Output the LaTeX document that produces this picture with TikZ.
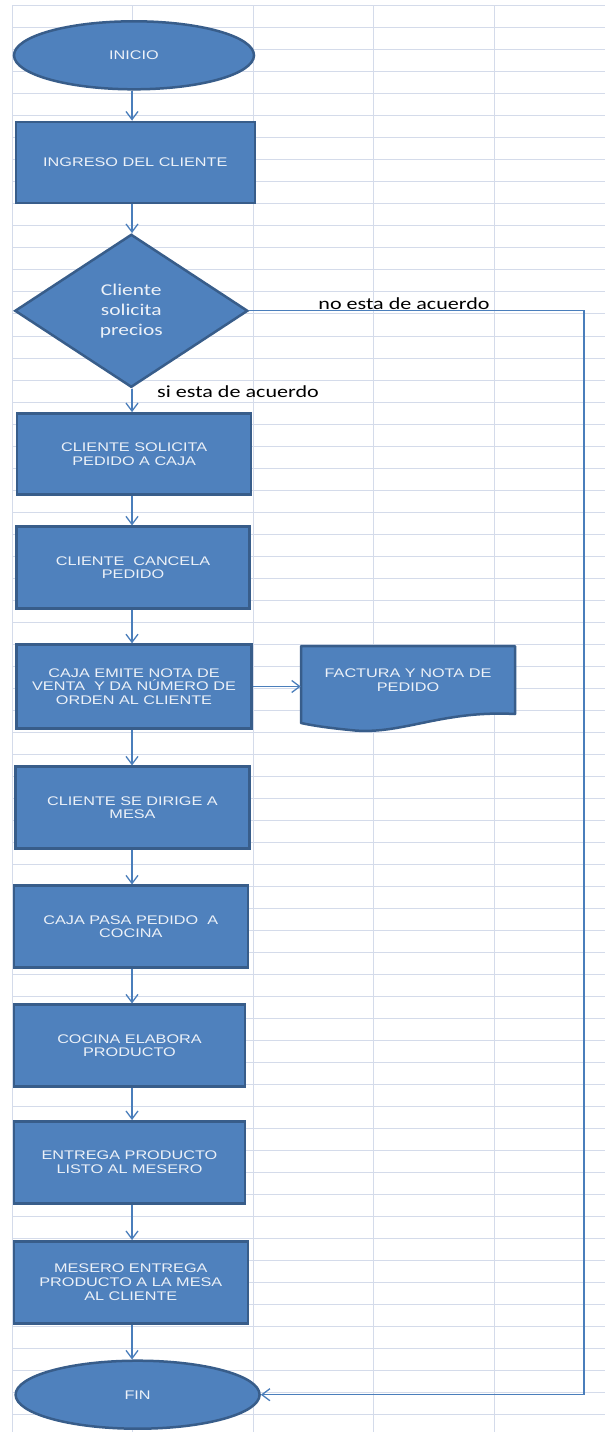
\documentclass[tikz,border=0pt]{standalone}
\usepackage{fontspec}
\usetikzlibrary{shapes.geometric,arrows.meta}
\newfontfamily\boxfont[FakeStretch=1.3]{Liberation Sans}
\newfontfamily\califont[FakeStretch=1.3]{Carlito}
\definecolor{shapefill}{RGB}{79,129,189}
\definecolor{shapeborder}{RGB}{56,93,138}
\definecolor{connblue}{RGB}{74,126,187}
\definecolor{gridcol}{RGB}{212,219,234}
\definecolor{txtcol}{RGB}{236,241,248}
\tikzset{
  proc/.style={rectangle, draw=shapeborder, fill=shapefill, line width=2.5pt,
    inner sep=0pt, align=center, text=txtcol,
    font=\boxfont\fontsize{12.5}{13.8}\selectfont},
  term/.style={ellipse, draw=shapeborder, fill=shapefill, line width=2.5pt,
    inner sep=0pt, align=center, text=txtcol,
    font=\boxfont\fontsize{12.5}{13.8}\selectfont},
  decide/.style={diamond, draw=shapeborder, fill=shapefill, line width=2.5pt,
    inner sep=0pt, align=center, text=txtcol, aspect=1.52,
    font=\califont\fontsize{16.5}{19.8}\selectfont},
  conn/.style={draw=connblue, line width=1.3pt,
    -{Straight Barb[length=8pt,width=12pt]}},
  plainconn/.style={draw=connblue, line width=1.3pt},
  lbl/.style={font=\califont\fontsize{17}{20}\selectfont, text=black, inner sep=0pt},
  gridline/.style={draw=gridcol, line width=1pt}
}
\begin{document}
\begin{tikzpicture}[x=1pt,y=-1pt]
\useasboundingbox (0,0) rectangle (605,1432);
\fill[white] (0,0) rectangle (605,1432);
% spreadsheet grid
\foreach \k in {0,...,64}{
  \draw[gridline] (12,{5.7+22.02*\k}) -- (605,{5.7+22.02*\k});
}
\foreach \xx in {12,132.5,253,373.5,494}{
  \draw[gridline] (\xx,5.7) -- (\xx,1432);
}
\coordinate (axis) at (132,0);

% nodes
\node[term, minimum width=240pt, minimum height=68pt] (inicio) at (134,55.3) {INICIO};
\node[proc, minimum width=239pt, minimum height=81pt] (ingreso) at (135.3,162.3) {INGRESO DEL CLIENTE};
\node[decide, minimum width=233pt, minimum height=153pt] (dec) at (131.3,310.8) {Cliente\\solicita\\precios};
\node[proc, minimum width=234pt, minimum height=81pt] (solicita) at (134.2,453.9) {CLIENTE SOLICITA\\PEDIDO A CAJA};
\node[proc, minimum width=233pt, minimum height=82pt] (cancela) at (133,567.7) {CLIENTE\ \ CANCELA\\PEDIDO};
\node[proc, minimum width=235pt, minimum height=84pt] (emite) at (134,686.5) {CAJA EMITE NOTA DE\\VENTA\ \ Y DA NÚMERO DE\\ORDEN AL CLIENTE};
\node[proc, minimum width=234pt, minimum height=82pt] (dirige) at (132.5,807.7) {CLIENTE SE DIRIGE A\\MESA};
\node[proc, minimum width=234pt, minimum height=82pt] (pasa) at (130.8,926.7) {CAJA PASA PEDIDO\ \ A\\COCINA};
\node[proc, minimum width=231pt, minimum height=82pt] (cocina) at (129.5,1045.7) {COCINA ELABORA\\PRODUCTO};
\node[proc, minimum width=231pt, minimum height=82pt] (entrega) at (129.5,1162.3) {ENTREGA PRODUCTO\\LISTO AL MESERO};
\node[proc, minimum width=234pt, minimum height=82pt] (mesero) at (130.8,1282.3) {MESERO ENTREGA\\PRODUCTO A LA MESA\\AL CLIENTE};
\node[term, minimum width=244pt, minimum height=68pt] (fin) at (137.6,1394.7) {FIN};

% document shape
\fill[shapefill, draw=shapeborder, line width=2.5pt, line join=round]
  (301,646) -- (515,646) -- (515,714)
  .. controls (440,710) and (400,736) .. (350,730)
  .. controls (330,728) and (315,726) .. (301,723) -- cycle;
\node[align=center, text=txtcol, inner sep=0pt,
  font=\boxfont\fontsize{12.5}{13.8}\selectfont,
  minimum width=214pt, minimum height=68pt] (factura) at (408,680) {FACTURA Y NOTA DE\\PEDIDO};

% connectors
\draw[conn] (inicio.south -| axis) -- (ingreso.north -| axis);
\draw[conn] (ingreso.south -| axis) -- (dec.north -| axis);
\draw[conn] (dec.south -| axis) -- (solicita.north -| axis);
\draw[conn] (solicita.south -| axis) -- (cancela.north -| axis);
\draw[conn] (cancela.south -| axis) -- (emite.north -| axis);
\draw[conn] (emite.east) -- (emite.east -| factura.west);
\draw[conn] (emite.south -| axis) -- (dirige.north -| axis);
\draw[conn] (dirige.south -| axis) -- (pasa.north -| axis);
\draw[conn] (pasa.south -| axis) -- (cocina.north -| axis);
\draw[conn] (cocina.south -| axis) -- (entrega.north -| axis);
\draw[conn] (entrega.south -| axis) -- (mesero.north -| axis);
\draw[conn] (mesero.south -| axis) -- (fin.north -| axis);

\coordinate (c1) at (584,310.8);
\coordinate (c2) at (584,1394.7);
\draw[conn] (dec.east) -- (c1) -- (c2) -- (fin.east);

% labels
\node[lbl] (lno) at (404,303.5) {no esta de acuerdo};
\node[lbl] (lsi) at (238,392) {si esta de acuerdo};
\end{tikzpicture}
\end{document}
